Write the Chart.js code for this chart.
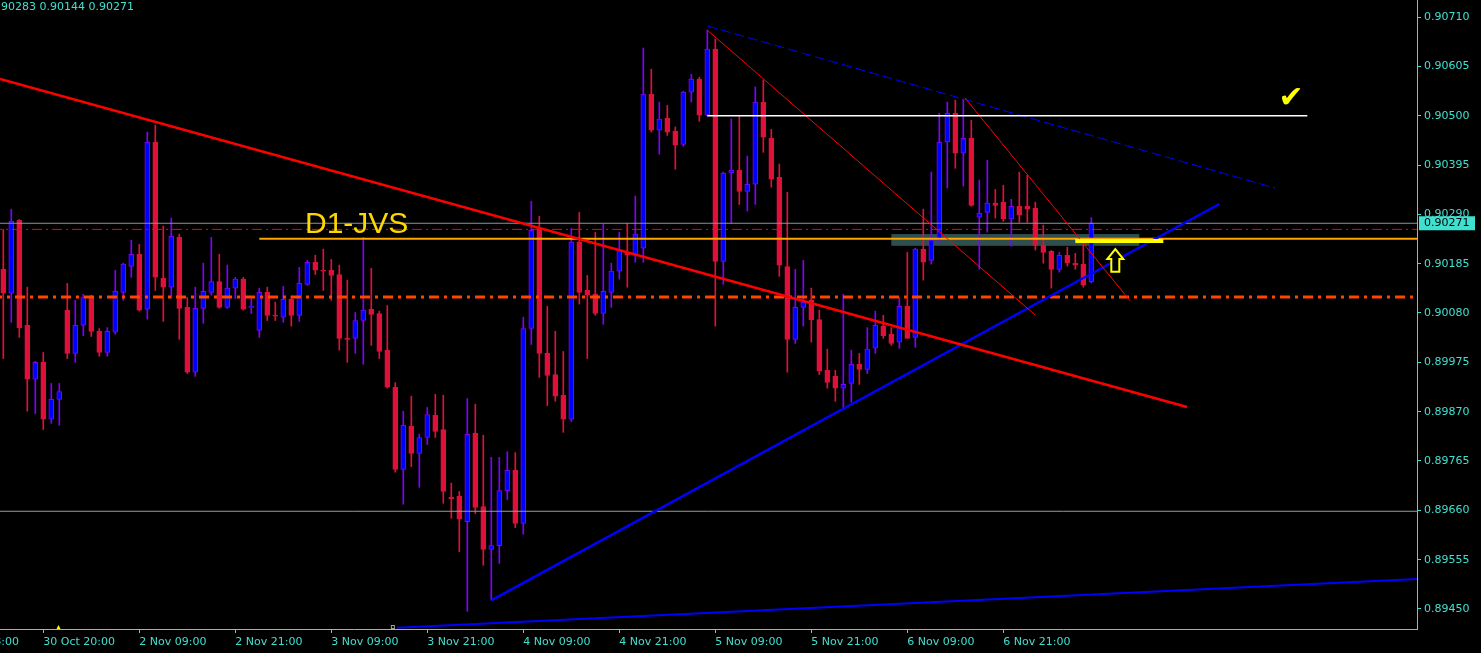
<!DOCTYPE html>
<html>
<head>
<meta charset="utf-8">
<script src="https://cdn.jsdelivr.net/npm/chart.js@4.4.1/dist/chart.umd.min.js"></script>
<style>
html, body { margin: 0; padding: 0; background: #000; }
#wrap { width: 1481px; height: 653px; position: relative; }
</style>
</head>
<body>
<div id="wrap"><canvas id="chart"></canvas></div>
<script>
// hourly candles, bar index 0 = 30 Oct 15:00
const opens = [0.90173,0.90122,0.90277,0.90054,0.89939,0.89975,0.89854,0.89896,0.90086,0.89994,
  0.90054,0.90113,0.90041,0.89996,0.90039,0.90124,0.90179,0.90205,0.90088,0.90444,
  0.90154,0.90135,0.90241,0.90092,0.89954,0.90090,0.90124,0.90147,0.90092,0.90133,
  0.90152,0.90092,0.90043,0.90124,0.90075,0.90071,0.90109,0.90075,0.90141,0.90188,
  0.90171,0.90171,0.90162,0.90026,0.90026,0.90064,0.90088,0.90079,0.90001,0.89922,
  0.89747,0.89839,0.89781,0.89815,0.89862,0.89832,0.89688,0.89690,0.89636,0.89824,
  0.89668,0.89577,0.89585,0.89702,0.89745,0.89632,0.90047,0.90260,0.89994,0.89949,
  0.89905,0.89854,0.90231,0.90128,0.90120,0.90079,0.90124,0.90169,0.90209,0.90203,
  0.90218,0.90546,0.90469,0.90495,0.90467,0.90439,0.90550,0.90578,0.90501,0.90642,
  0.90190,0.90378,0.90384,0.90339,0.90354,0.90529,0.90452,0.90369,0.90179,0.90024,
  0.90092,0.90107,0.90066,0.89958,0.89945,0.89920,0.89930,0.89971,0.89960,0.90005,
  0.90052,0.90035,0.90018,0.90094,0.90028,0.90216,0.90192,0.90235,0.90444,0.90505,
  0.90420,0.90452,0.90284,0.90294,0.90314,0.90316,0.90280,0.90307,0.90307,0.90303,
  0.90224,0.90211,0.90173,0.90203,0.90186,0.90184,0.90146];
const highs = [0.90258,0.90301,0.90279,0.90135,0.89977,0.89996,0.89930,0.89930,0.90143,0.90107,
  0.90120,0.90118,0.90047,0.90049,0.90171,0.90186,0.90235,0.90226,0.90465,0.90480,
  0.90265,0.90282,0.90248,0.90113,0.90135,0.90186,0.90241,0.90205,0.90182,0.90156,
  0.90156,0.90111,0.90133,0.90135,0.90103,0.90137,0.90116,0.90177,0.90192,0.90203,
  0.90216,0.90194,0.90182,0.90150,0.90081,0.90241,0.90175,0.90084,0.90096,0.89932,
  0.89871,0.89903,0.89822,0.89879,0.89907,0.89905,0.89718,0.89700,0.89898,0.89886,
  0.89820,0.89773,0.89773,0.89785,0.89783,0.90071,0.90318,0.90286,0.90094,0.90041,
  0.89998,0.90260,0.90294,0.90160,0.90252,0.90269,0.90186,0.90252,0.90271,0.90329,
  0.90644,0.90599,0.90529,0.90522,0.90476,0.90552,0.90588,0.90582,0.90682,0.90663,
  0.90380,0.90493,0.90499,0.90414,0.90561,0.90576,0.90471,0.90397,0.90337,0.90173,
  0.90192,0.90133,0.90086,0.90003,0.89958,0.90120,0.90001,0.89994,0.90049,0.90084,
  0.90075,0.90049,0.90113,0.90209,0.90218,0.90301,0.90380,0.90505,0.90529,0.90533,
  0.90535,0.90490,0.90363,0.90405,0.90343,0.90352,0.90322,0.90380,0.90373,0.90316,
  0.90267,0.90213,0.90209,0.90220,0.90207,0.90231,0.90283];
const lows = [0.89983,0.90060,0.90028,0.89871,0.89866,0.89832,0.89845,0.89841,0.89983,0.89975,
  0.90032,0.90030,0.89988,0.89988,0.90035,0.90107,0.90156,0.90084,0.90067,0.90128,
  0.90062,0.90111,0.90024,0.89951,0.89945,0.90058,0.90118,0.90090,0.90090,0.90111,
  0.90086,0.90079,0.90028,0.90064,0.90064,0.90060,0.90052,0.90062,0.90139,0.90162,
  0.90128,0.90107,0.90001,0.89975,0.89994,0.89971,0.90011,0.89983,0.89920,0.89741,
  0.89673,0.89753,0.89709,0.89800,0.89815,0.89675,0.89643,0.89572,0.89445,0.89653,
  0.89543,0.89469,0.89547,0.89683,0.89623,0.89609,0.90013,0.89943,0.89883,0.89892,
  0.89826,0.89849,0.90099,0.89983,0.90075,0.90056,0.90092,0.90152,0.90135,0.90188,
  0.90188,0.90465,0.90418,0.90458,0.90386,0.90435,0.90529,0.90488,0.90499,0.90052,
  0.90141,0.90271,0.90311,0.90297,0.90311,0.90422,0.90348,0.90158,0.89954,0.90015,
  0.90052,0.90018,0.89949,0.89920,0.89892,0.89877,0.89890,0.89928,0.89951,0.89994,
  0.90026,0.90011,0.90005,0.90026,0.90007,0.90150,0.90184,0.90228,0.90346,0.90388,
  0.90350,0.90307,0.90173,0.90252,0.90282,0.90275,0.90222,0.90273,0.90273,0.90214,
  0.90186,0.90133,0.90167,0.90180,0.90173,0.90135,0.90144];
const closes = [0.90122,0.90275,0.90049,0.89939,0.89975,0.89854,0.89896,0.89913,0.89994,0.90054,
  0.90113,0.90041,0.89996,0.90041,0.90126,0.90184,0.90205,0.90086,0.90444,0.90156,
  0.90135,0.90243,0.90090,0.89954,0.90090,0.90126,0.90147,0.90092,0.90133,0.90152,
  0.90088,0.90094,0.90124,0.90075,0.90073,0.90109,0.90075,0.90143,0.90188,0.90171,
  0.90169,0.90160,0.90026,0.90024,0.90064,0.90086,0.90077,0.89998,0.89922,0.89747,
  0.89841,0.89781,0.89815,0.89864,0.89828,0.89700,0.89685,0.89641,0.89822,0.89666,
  0.89577,0.89585,0.89702,0.89745,0.89632,0.90047,0.90256,0.89994,0.89947,0.89903,
  0.89854,0.90231,0.90124,0.90118,0.90079,0.90126,0.90169,0.90214,0.90203,0.90248,
  0.90546,0.90469,0.90493,0.90465,0.90437,0.90550,0.90578,0.90501,0.90642,0.90190,
  0.90378,0.90384,0.90339,0.90354,0.90529,0.90454,0.90365,0.90182,0.90024,0.90092,
  0.90103,0.90066,0.89956,0.89932,0.89920,0.89928,0.89971,0.89960,0.90003,0.90054,
  0.90032,0.90015,0.90094,0.90026,0.90216,0.90188,0.90235,0.90444,0.90505,0.90420,
  0.90452,0.90309,0.90292,0.90314,0.90309,0.90280,0.90307,0.90288,0.90301,0.90224,
  0.90209,0.90173,0.90203,0.90186,0.90182,0.90139,0.90271];

const tickBars = [-7, 5, 17, 29, 41, 53, 65, 77, 89, 101, 113, 125];
const tickTimes = ['30 Oct 08:00', '30 Oct 20:00', '2 Nov 09:00', '2 Nov 21:00', '3 Nov 09:00', '3 Nov 21:00',
  '4 Nov 09:00', '4 Nov 21:00', '5 Nov 09:00', '5 Nov 21:00', '6 Nov 09:00', '6 Nov 21:00'];
const priceTicks = [0.89450, 0.89555, 0.89660, 0.89765, 0.89870, 0.89975, 0.90080,
  0.90185, 0.90290, 0.90395, 0.90500, 0.90605, 0.90710];

// drawn objects, in (bar, price)
const bidPrice = 0.90271;
const askDashPrice = 0.90258;
const d1Price = 0.90238, d1Start = 32;
const pivotPrice = 0.90114;
const lowLinePrice = 0.89658;
const resistPrice = 0.90500, resistBars = [88, 163];
const redTrend = [[-0.41, 0.90578], [147.96, 0.89880]];
const redThinA = [[88, 0.90682], [128.96, 0.90076]];
const redThinB = [[120.2, 0.90538], [140.84, 0.90106]];
const blueDash = [[88, 0.90691], [158.96, 0.90346]];
const blueTrend = [[61.05, 0.89469], [152, 0.90312]];
const blueLow = [[49.2, 0.89410], [176.71, 0.89514]];
const zoneBars = [111, 142], zonePrices = [0.90248, 0.90223];
const yellowBars = [134, 145], yellowPrice = 0.90233;
const arrowBar = 139, arrowPrices = [0.90216, 0.90168];
const checkBar = 160.96, checkPrice = 0.90536;
const labelBar = 37.71, labelPrice = 0.90250;

const xMin = -0.41, xMax = 176.71;
const yMin = 0.894074, yMax = 0.907462;

const BULL = '#0000ff', BULL_EDGE = '#7f00ff', BEAR = '#e0103a';
const AXIS = '#40e0d0';
const isUp = i => closes[i] >= opens[i];

function line(pts, color, width, dash) {
  return {
    type: 'line', order: 0,
    data: pts.map(p => ({x: p[0], y: p[1]})),
    borderColor: color, borderWidth: width, borderDash: dash || [],
    borderCapStyle: 'butt', pointRadius: 0, fill: false, tension: 0
  };
}

Chart.defaults.font.family = '"DejaVu Sans", sans-serif';
Chart.defaults.font.size = 11;

const overlay = {
  id: 'overlay',
  beforeDatasetsDraw(chart) {
    const {ctx, scales: {x, y}} = chart;
    const x0 = x.getPixelForValue(zoneBars[0]), x1 = x.getPixelForValue(zoneBars[1]);
    const y0 = y.getPixelForValue(zonePrices[0]), y1 = y.getPixelForValue(zonePrices[1]);
    ctx.save();
    ctx.fillStyle = '#2f4f4f';
    ctx.fillRect(x0, y0, x1 - x0, y1 - y0);
    ctx.restore();
  },
  afterDatasetsDraw(chart) {
    const {ctx, scales: {x, y}} = chart;
    ctx.save();
    // label
    ctx.font = '30px "Liberation Sans", Arial, sans-serif';
    ctx.fillStyle = '#ffd700';
    ctx.textBaseline = 'alphabetic';
    ctx.fillText('D1-JVS', x.getPixelForValue(labelBar), y.getPixelForValue(labelPrice));
    // up arrow
    const ax = x.getPixelForValue(arrowBar);
    const yt = y.getPixelForValue(arrowPrices[0]), yb = y.getPixelForValue(arrowPrices[1]);
    ctx.beginPath();
    ctx.moveTo(ax, yt);
    ctx.lineTo(ax + 8, yt + 10);
    ctx.lineTo(ax + 4, yt + 10);
    ctx.lineTo(ax + 4, yb);
    ctx.lineTo(ax - 4, yb);
    ctx.lineTo(ax - 4, yt + 10);
    ctx.lineTo(ax - 8, yt + 10);
    ctx.closePath();
    ctx.fillStyle = '#000';
    ctx.fill();
    ctx.strokeStyle = '#ffff00';
    ctx.lineWidth = 2;
    ctx.stroke();
    // check mark
    ctx.font = '30px "DejaVu Sans"';
    ctx.fillStyle = '#ffff00';
    ctx.textAlign = 'center';
    ctx.textBaseline = 'middle';
    ctx.fillText('\u2714', x.getPixelForValue(checkBar), y.getPixelForValue(checkPrice));
    // small markers at the bottom
    const bx = x.getPixelForValue(6.9), by = chart.chartArea.bottom;
    ctx.beginPath();
    ctx.moveTo(bx - 2, by); ctx.lineTo(bx + 2, by); ctx.lineTo(bx, by - 4); ctx.closePath();
    ctx.fill();
    ctx.strokeStyle = '#a0a0a0';
    ctx.lineWidth = 1;
    ctx.strokeRect(x.getPixelForValue(48.7) - 1.5, by - 3.5, 3, 3);
    ctx.restore();
  },
  afterDraw(chart) {
    const {ctx, scales: {x, y}} = chart;
    ctx.save();
    const py = y.getPixelForValue(bidPrice);
    ctx.fillStyle = AXIS;
    ctx.fillRect(x.right + 2, py - 7, 56, 14);
    ctx.fillStyle = '#000';
    ctx.font = '11px "DejaVu Sans"';
    ctx.textBaseline = 'middle';
    ctx.fillText(bidPrice.toFixed(5), x.right + 7, py);
    ctx.fillStyle = AXIS;
    ctx.textBaseline = 'top';
    ctx.fillText('90283 0.90144 0.90271', 1, 2);
    ctx.restore();
  }
};

const ctx = document.getElementById('chart').getContext('2d');
const chart = new Chart(ctx, {
  type: 'bar',
  data: {
    datasets: [
      line([[resistBars[0], resistPrice], [resistBars[1], resistPrice]], '#ffffff', 1.5),
      line([[yellowBars[0], yellowPrice], [yellowBars[1], yellowPrice]], '#ffff00', 4),
      line(redTrend, '#ff0000', 2.5),
      line(redThinA, '#ff0000', 1),
      line(redThinB, '#ff0000', 1),
      line(blueDash, '#0000ff', 1, [10, 4]),
      line(blueTrend, '#0000ff', 2.5),
      line(blueLow, '#0000ff', 2),
      line([[d1Start, d1Price], [xMax + 1, d1Price]], '#ffa500', 2),
      line([[xMin - 1, pivotPrice], [xMax + 1, pivotPrice]], '#ff4500', 3, [10, 5, 3, 5]),
      line([[xMin - 1, askDashPrice], [xMax + 1, askDashPrice]], '#ff0000', 1, [10, 4, 2, 4]),
      line([[xMin - 1, bidPrice], [xMax + 1, bidPrice]], '#8a94a0', 1),
      line([[xMin - 1, lowLinePrice], [xMax + 1, lowLinePrice]], '#90a0a0', 1),
      {
        label: 'body', order: 10, grouped: false,
        data: closes.map((c, i) => ({x: i, y: [opens[i], c]})),
        barThickness: 5, minBarLength: 1, borderWidth: 1, borderSkipped: false,
        backgroundColor: c => isUp(c.dataIndex) ? BULL : BEAR,
        borderColor: c => isUp(c.dataIndex) ? BULL_EDGE : BEAR
      },
      {
        label: 'wick', order: 11, grouped: false,
        data: highs.map((h, i) => ({x: i, y: [lows[i], h]})),
        barThickness: 1, borderWidth: 0,
        backgroundColor: c => isUp(c.dataIndex) ? BULL_EDGE : BEAR
      }
    ]
  },
  options: {
    responsive: true,
    maintainAspectRatio: false,
    animation: false,
    layout: { padding: 0 },
    plugins: { legend: { display: false }, tooltip: { enabled: false } },
    scales: {
      x: {
        type: 'linear', position: 'bottom', min: xMin, max: xMax, offset: false,
        afterBuildTicks: s => { s.ticks = tickBars.map(v => ({value: v})); },
        afterFit: s => { s.height = 24; s.paddingLeft = 0; s.paddingRight = 0; },
        grid: { display: true, offset: false, drawOnChartArea: false, drawTicks: true, tickLength: 4, color: AXIS },
        border: { display: true, color: AXIS },
        ticks: {
          autoSkip: false, maxRotation: 0, align: 'start', color: AXIS, padding: 3,
          callback: v => tickTimes[tickBars.indexOf(v)] || ''
        }
      },
      y: {
        type: 'linear', position: 'right', min: yMin, max: yMax,
        afterBuildTicks: s => { s.ticks = priceTicks.map(v => ({value: v})); },
        afterFit: s => { s.width = 64; s.paddingTop = 0; s.paddingBottom = 0; },
        grid: { display: true, drawOnChartArea: false, drawTicks: true, tickLength: 4, color: AXIS },
        border: { display: true, color: AXIS },
        ticks: { color: AXIS, padding: 3, callback: v => v.toFixed(5) }
      }
    }
  },
  plugins: [overlay]
});
</script>
</body>
</html>
